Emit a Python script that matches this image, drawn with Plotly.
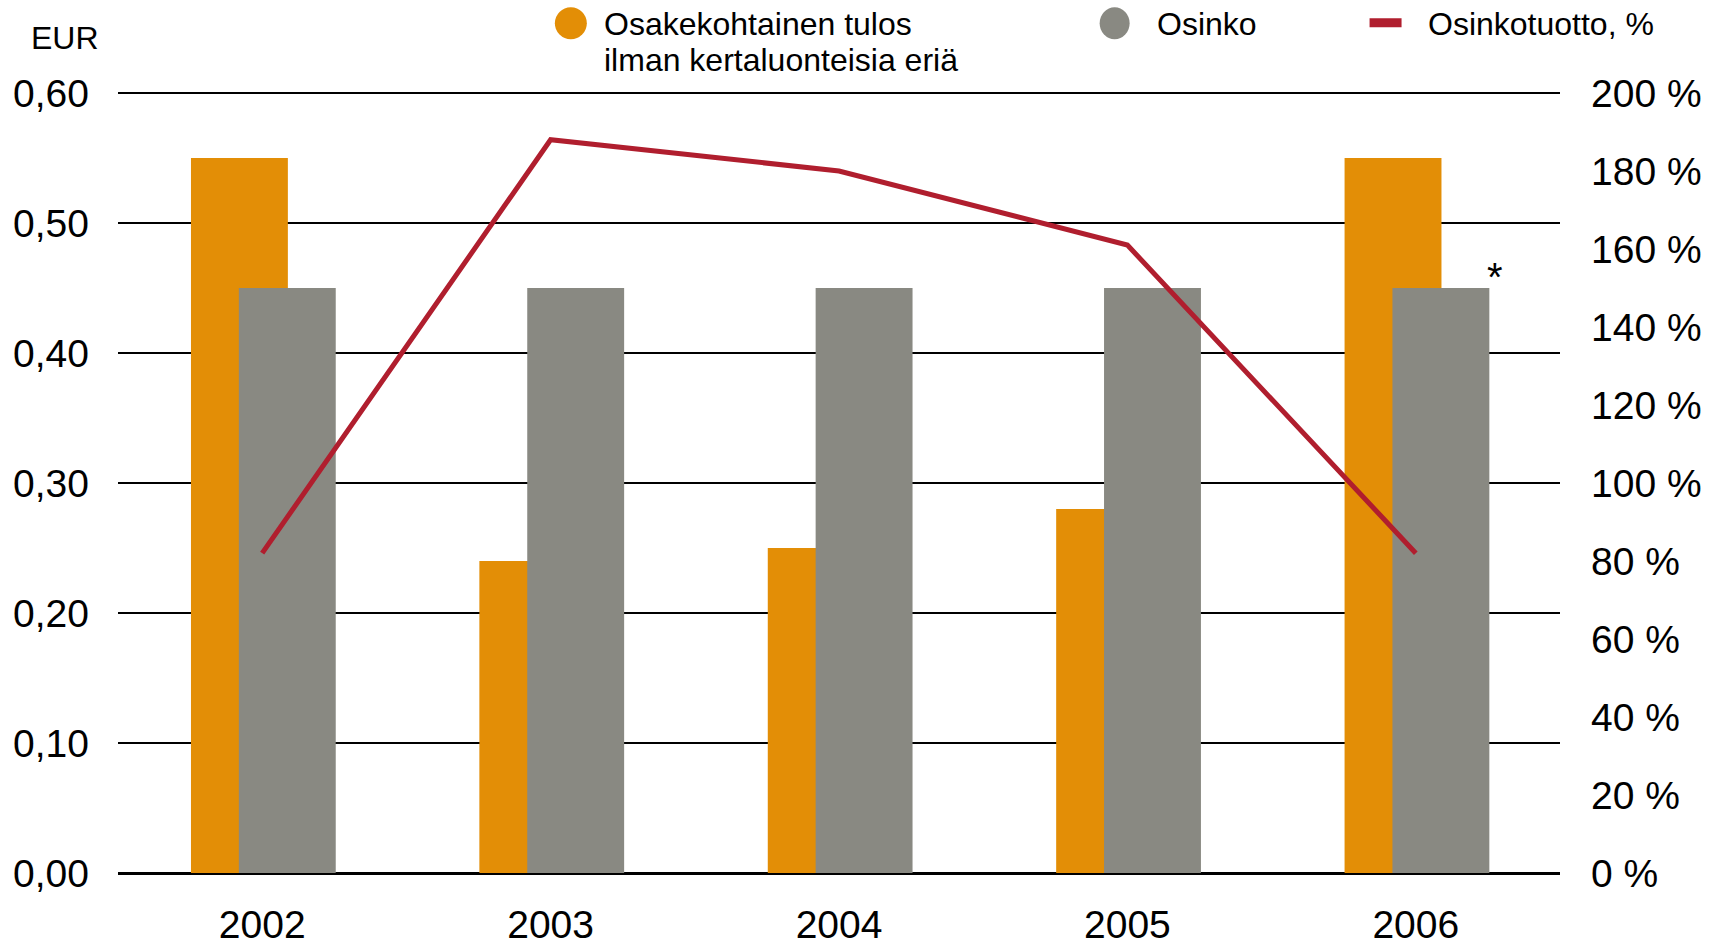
import plotly.graph_objects as go

# ---- data ----
years = ["2002", "2003", "2004", "2005", "2006"]
eps_excl = [0.55, 0.24, 0.25, 0.28, 0.55]        # Osakekohtainen tulos ilman kertaluonteisia eriä (EUR)
dividend = [0.45, 0.45, 0.45, 0.45, 0.45]        # Osinko (EUR)
payout_pct = [82, 188, 180, 161, 82]             # Osinkotuotto, %

left_ticks = [0.0, 0.1, 0.2, 0.3, 0.4, 0.5, 0.6]
left_ticktext = ["0,00", "0,10", "0,20", "0,30", "0,40", "0,50", "0,60"]
right_ticks = [0, 20, 40, 60, 80, 100, 120, 140, 160, 180, 200]
right_ticktext = [f"{v} %" for v in right_ticks]

legend_labels = ["Osakekohtainen tulos", "ilman kertaluonteisia eriä", "Osinko", "Osinkotuotto, %"]

ORANGE = "#E38E06"
GRAY = "#898982"
RED = "#B01E2E"
FONT = "Liberation Sans, Arial, sans-serif"

# body margin is removed by the post script below
OFF = 0
W, H = 1718, 946

# plot area in page (reference) pixels
X_L, X_R = 118, 1560.5
Y_ZERO, Y_TOP = 872.7, 92.7
EXTRA = 0.0015  # slight headroom so the top gridline is drawn
Y_MAX = 0.6 + EXTRA
Y_TOP_AX = Y_ZERO - (Y_ZERO - Y_TOP) * Y_MAX / 0.6

ML = X_L - OFF
MR = W - (X_R - OFF)
MT = Y_TOP_AX - OFF
MB = H - (Y_ZERO - OFF)
PW = X_R - X_L
PH = Y_ZERO - Y_TOP_AX


def px(x):
    return (x - X_L) / PW


def py(y):
    return (Y_ZERO - y) / PH


xs = list(range(len(years)))

fig = go.Figure()
fig.add_trace(go.Bar(x=xs, y=eps_excl, marker_color=ORANGE, marker_line_width=0,
                     width=0.336, offset=-0.247, name=legend_labels[0], showlegend=False))
fig.add_trace(go.Bar(x=xs, y=dividend, marker_color=GRAY, marker_line_width=0,
                     width=0.336, offset=-0.081, name=legend_labels[2], showlegend=False))
fig.add_trace(go.Scatter(x=xs, y=payout_pct, yaxis="y2", mode="lines",
                         line=dict(color=RED, width=5), name=legend_labels[3], showlegend=False))

shapes = [
    dict(type="circle", xref="paper", yref="paper", x0=px(555), x1=px(587), y0=py(7), y1=py(39),
         fillcolor=ORANGE, line_width=0),
    dict(type="circle", xref="paper", yref="paper", x0=px(1100), x1=px(1130), y0=py(7), y1=py(39),
         fillcolor=GRAY, line_width=0),
    dict(type="rect", xref="paper", yref="paper", x0=px(1370), x1=px(1402), y0=py(18), y1=py(27),
         fillcolor=RED, line_width=0),
]

annos = [
    dict(text=legend_labels[0], x=px(603), y=py(24)),
    dict(text=legend_labels[1], x=px(603), y=py(60)),
    dict(text=legend_labels[2], x=px(1156), y=py(24)),
    dict(text=legend_labels[3], x=px(1427), y=py(24)),
]
annotations = []
for a in annos:
    a.update(xref="paper", yref="paper", xanchor="left", yanchor="middle", showarrow=False,
             borderpad=0, font=dict(family=FONT, size=32, color="black"))
    annotations.append(a)
annotations.append(dict(text="EUR", xref="paper", yref="paper", x=px(30), y=py(37.5),
                        xanchor="left", yanchor="middle", showarrow=False, borderpad=0,
                        font=dict(family=FONT, size=32, color="black")))
annotations.append(dict(text="*", xref="x", yref="y", x=xs[-1], y=dividend[-1],
                        xshift=79, yshift=11, xanchor="center", yanchor="middle",
                        showarrow=False, font=dict(family=FONT, size=40, color="black")))

fig.update_layout(
    template="none",
    width=W, height=H,
    margin=dict(l=ML, r=MR, t=MT, b=MB, pad=0, autoexpand=False),
    plot_bgcolor="white", paper_bgcolor="white",
    barmode="overlay",
    font=dict(family=FONT, color="black"),
    showlegend=False,
    hovermode=False,
    shapes=shapes,
    annotations=annotations,
    xaxis=dict(range=[-0.5, len(years) - 0.5], tickvals=xs, ticktext=years, automargin=False,
               showgrid=False, showline=False, zeroline=False, ticks="",
               tickfont=dict(size=39, family=FONT, color="black"), ticklabelstandoff=25),
    yaxis=dict(range=[0, Y_MAX], tickvals=left_ticks, ticktext=left_ticktext, automargin=False,
               showgrid=True, gridcolor="black", gridwidth=2,
               zeroline=True, zerolinecolor="black", zerolinewidth=3,
               showline=False, ticks="", ticklabelstandoff=28,
               tickfont=dict(size=39, family=FONT, color="black")),
    yaxis2=dict(range=[0, 200 * Y_MAX / 0.6], overlaying="y", side="right", tickvals=right_ticks,
                ticktext=right_ticktext, showgrid=False, zeroline=False, showline=False,
                ticks="", ticklabelstandoff=30, automargin=False,
                tickfont=dict(size=39, family=FONT, color="black")),
)

fig.write_html("out.html", config={"displayModeBar": False},
               post_script="document.body.style.margin='0px';document.body.style.overflow='hidden';")
